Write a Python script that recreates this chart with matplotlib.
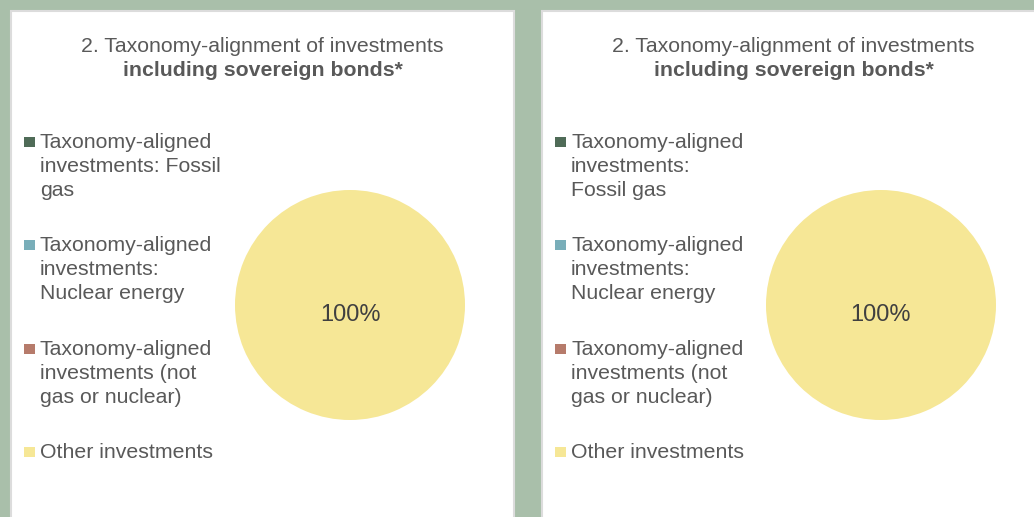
"""
Taxonomy-alignment pie panels (two side-by-side cards).
"""

import matplotlib
matplotlib.use('Agg')
import matplotlib.pyplot as plt
from matplotlib.patches import Rectangle

plt.rcParams['font.family'] = ['Liberation Sans', 'DejaVu Sans']

# data
categories_left = ['Taxonomy-aligned\ninvestments: Fossil\ngas',
                   'Taxonomy-aligned\ninvestments:\nNuclear energy',
                   'Taxonomy-aligned\ninvestments (not\ngas or nuclear)',
                   'Other investments']
categories_right = ['Taxonomy-aligned\ninvestments:\nFossil gas',
                    'Taxonomy-aligned\ninvestments:\nNuclear energy',
                    'Taxonomy-aligned\ninvestments (not\ngas or nuclear)',
                    'Other investments']
shares_left = [0, 0, 0, 100]
shares_right = [0, 0, 0, 100]
colors = ['#4f6b57', '#79aeb9', '#b67b6b', '#f6e796']
title_line1 = '2. Taxonomy-alignment of investments'
title_line2 = 'including sovereign bonds*'

W, H = 1034, 517
BG = '#a9bfaa'
TXT = '#595959'
FS = 15.3

fig = plt.figure(figsize=(W / 100, H / 100), dpi=100, facecolor=BG)


def fx(x):
    return x / W


def fy(y):
    return 1 - y / H


def draw_panel(x0, labels, shares):
    pw = 503
    # white card, behind everything
    fig.patches.append(Rectangle((fx(x0), fy(H + 20)), pw / W, (H + 20 - 11) / H,
                                 transform=fig.transFigure, facecolor='white',
                                 edgecolor='#dcdcdc', lw=1.5, zorder=-5))
    cx = x0 + pw / 2
    fig.text(fx(cx), fy(52), title_line1, ha='center', va='baseline',
             fontsize=FS, color=TXT)
    fig.text(fx(cx), fy(76), title_line2, ha='center', va='baseline',
             fontsize=FS, color=TXT, fontweight='bold')

    # legend: one square per entry, label lines 24 px apart
    for i, (lab, col) in enumerate(zip(labels, colors)):
        base = 148 + i * 103.4
        fig.patches.append(Rectangle((fx(x0 + 13), fy(base - 1)), 10.5 / W, 10 / H,
                                     transform=fig.transFigure, facecolor=col,
                                     edgecolor='none', zorder=2))
        for j, line in enumerate(lab.split('\n')):
            fig.text(fx(x0 + 29), fy(base + j * 24), line, ha='left',
                     va='baseline', fontsize=FS, color=TXT)

    # pie
    r = 115
    pcx, pcy = x0 + 339, 305
    ax = fig.add_axes([fx(pcx - r), fy(pcy + r), 2 * r / W, 2 * r / H])
    ax.patch.set_visible(False)
    wedges, _, autotexts = ax.pie(
        shares, colors=colors, startangle=90, counterclock=False,
        autopct=lambda p: f'{p:.0f}%' if p > 0 else '',
        pctdistance=0, wedgeprops=dict(linewidth=0),
        textprops=dict(color='#404040'))
    for t in autotexts:
        t.set_position((0, -0.09))
        t.set_va('center')
        t.set_fontsize(17)
    ax.set_xlim(-1, 1)
    ax.set_ylim(-1, 1)
    ax.axis('off')


draw_panel(11, categories_left, shares_left)
draw_panel(542, categories_right, shares_right)

plt.savefig('out.png', dpi=100, facecolor=BG)
plt.close(fig)
